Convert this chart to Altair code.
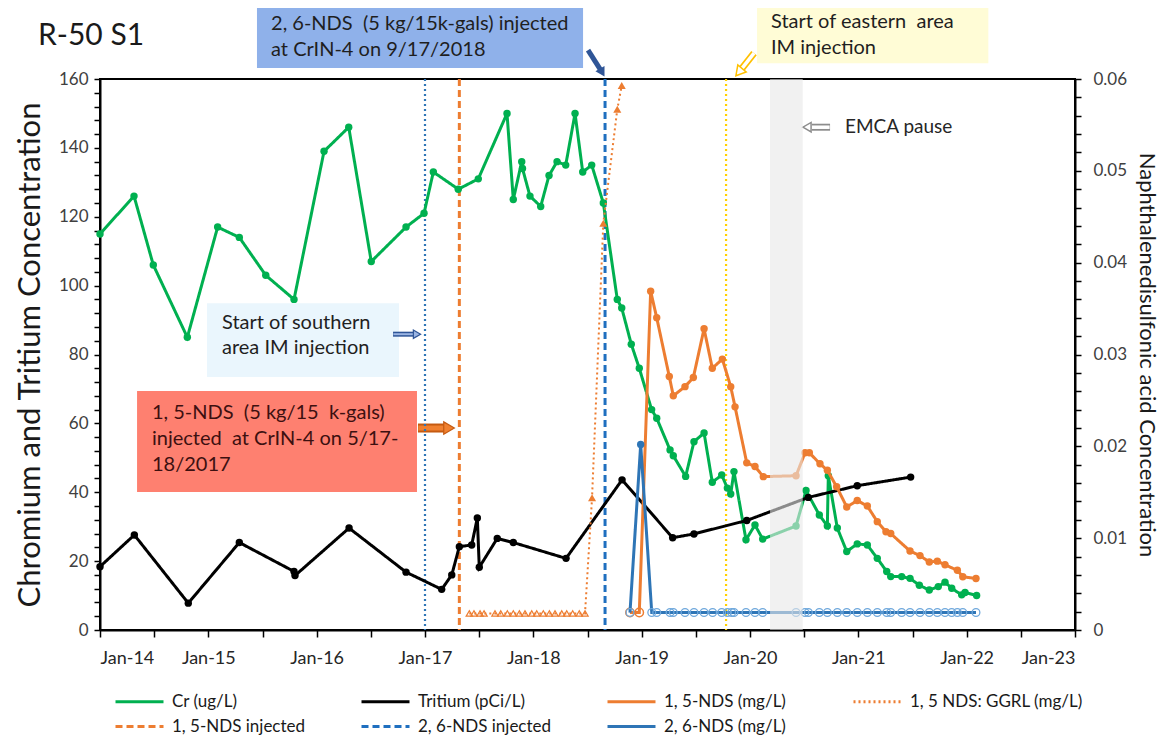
import altair as alt
import pandas as pd

FONT = "Lato"

# ---------------- series definitions ----------------
SERIES = ["Cr (ug/L)", "Tritium (pCi/L)", "1, 5-NDS (mg/L)", "1, 5 NDS: GGRL (mg/L)",
          "1, 5-NDS injected", "2, 6-NDS injected", "2, 6-NDS (mg/L)"]
SERIES_COLORS = ["#00b050", "#000000", "#ed7d31", "#ed7d31", "#ed7d31", "#1f6fbf", "#2e75b6"]
SERIES_DASH = [[1, 0], [1, 0], [1, 0], [2, 3], [7, 4], [7, 4], [1, 0]]

# ---------------- data (decimal years) ----------------
cr_year = [2014.000, 2014.314, 2014.492, 2014.806, 2015.086, 2015.286, 2015.530, 2015.791,
           2016.068, 2016.296, 2016.504, 2016.825, 2016.991, 2017.077, 2017.307, 2017.492,
           2017.757, 2017.815, 2017.893, 2017.900, 2017.969, 2018.068, 2018.145, 2018.219,
           2018.299, 2018.385, 2018.456, 2018.539, 2018.646, 2018.775, 2018.816, 2018.904,
           2018.978, 2019.092, 2019.139, 2019.262, 2019.292, 2019.406, 2019.483, 2019.576,
           2019.652, 2019.739, 2019.791, 2019.822, 2019.852, 2019.963, 2020.046, 2020.117,
           2020.425, 2020.517, 2020.640, 2020.714, 2020.723, 2020.806, 2020.893, 2020.990,
           2021.083, 2021.175, 2021.262, 2021.299, 2021.400, 2021.477, 2021.563, 2021.655,
           2021.738, 2021.800, 2021.862, 2021.954, 2021.985, 2022.092]
cr_val = [115, 126, 106, 85, 117, 114, 103, 96,
          139, 146, 107, 117, 121, 133, 128, 131,
          150, 125, 136, 134, 126, 123, 132, 136,
          135, 150, 133, 135, 124, 96, 93.5, 83,
          76, 64, 61.5, 52.3, 50.6, 44.6, 54.7, 57.2,
          42.9, 45, 41.2, 39.5, 46, 26.2, 30.5, 26.4,
          30.2, 40.5, 33.4, 30.2, 44.8, 29.6, 22.8, 25,
          24.7, 20.8, 17, 15.5, 15.5, 15, 13, 11.6,
          12.6, 13.9, 12.1, 10.2, 10.9, 10]

tr_year = [2014.000, 2014.317, 2014.815, 2015.286, 2015.791, 2015.800, 2016.299, 2016.825,
           2017.154, 2017.247, 2017.317, 2017.431, 2017.483, 2017.501, 2017.667, 2017.815,
           2018.302, 2018.819, 2019.286, 2019.483, 2019.970, 2020.538, 2020.990, 2021.483]
tr_val = [18.4, 27.6, 7.8, 25.4, 17.0, 15.8, 29.6, 16.8,
          11.8, 16.0, 24.2, 24.7, 32.5, 18.2, 26.6, 25.4,
          20.8, 43.6, 26.8, 27.9, 31.8, 38.5, 41.9, 44.4]

nds15_year = [2018.892, 2018.978, 2019.083, 2019.139, 2019.255, 2019.292, 2019.400, 2019.477,
              2019.576, 2019.652, 2019.745, 2019.822, 2019.862, 2019.970, 2020.046, 2020.123,
              2020.425, 2020.508, 2020.548, 2020.646, 2020.714, 2020.800, 2020.893, 2020.990,
              2021.083, 2021.175, 2021.255, 2021.299, 2021.477, 2021.569, 2021.655, 2021.729,
              2021.800, 2021.914, 2021.964, 2022.086]
nds15_val = [0.0019, 0.0019, 0.0369, 0.0340, 0.0276, 0.0255, 0.0265, 0.0275,
             0.0328, 0.0285, 0.0295, 0.0265, 0.0243, 0.0182, 0.0178, 0.0167,
             0.0168, 0.0193, 0.0193, 0.0181, 0.0174, 0.0156, 0.0134, 0.0141,
             0.0135, 0.0118, 0.0107, 0.0105, 0.0086, 0.0081, 0.0074, 0.0075,
             0.0071, 0.0065, 0.0058, 0.0056]
nds15_flag = ["ND", "ND", "D", "D", "D", "D", "D", "D",
              "D", "D", "D", "D", "D", "D", "D", "D",
              "D", "D", "D", "D", "D", "D", "D", "D",
              "D", "D", "D", "D", "D", "D", "D", "D",
              "D", "D", "D", "D"]

ggrl_year = [2017.409, 2017.452, 2017.508, 2017.545, 2017.646, 2017.699, 2017.760, 2017.815,
             2017.871, 2017.923, 2017.985, 2018.031, 2018.092, 2018.148, 2018.200, 2018.262,
             2018.308, 2018.363, 2018.424, 2018.477, 2018.542, 2018.646, 2018.775, 2018.816]
ggrl_val = [0.0018, 0.0018, 0.0018, 0.0018, 0.0018, 0.0018, 0.0018, 0.0018,
            0.0018, 0.0018, 0.0018, 0.0018, 0.0018, 0.0018, 0.0018, 0.0018,
            0.0018, 0.0018, 0.0018, 0.0018, 0.0144, 0.0443, 0.0567, 0.0593]
ggrl_flag = ["ND", "ND", "ND", "ND", "ND", "ND", "ND", "ND",
             "ND", "ND", "ND", "ND", "ND", "ND", "ND", "ND",
             "ND", "ND", "ND", "ND", "D", "D", "D", "D"]

nds26_year = [2018.892, 2018.991, 2019.093, 2019.139, 2019.262, 2019.292, 2019.400, 2019.483,
              2019.576, 2019.655, 2019.739, 2019.791, 2019.831, 2019.852, 2019.963, 2020.046,
              2020.117, 2020.425, 2020.508, 2020.539, 2020.640, 2020.714, 2020.806, 2020.893,
              2020.990, 2021.083, 2021.175, 2021.262, 2021.299, 2021.400, 2021.477, 2021.569,
              2021.655, 2021.729, 2021.800, 2021.862, 2021.914, 2021.964, 2022.086]
nds26_val = [0.0019, 0.0202, 0.0019, 0.0019, 0.0019, 0.0019, 0.0019, 0.0019,
             0.0019, 0.0019, 0.0019, 0.0019, 0.0019, 0.0019, 0.0019, 0.0019,
             0.0019, 0.0019, 0.0019, 0.0019, 0.0019, 0.0019, 0.0019, 0.0019,
             0.0019, 0.0019, 0.0019, 0.0019, 0.0019, 0.0019, 0.0019, 0.0019,
             0.0019, 0.0019, 0.0019, 0.0019, 0.0019, 0.0019, 0.0019]
nds26_flag = ["ND", "D", "ND", "ND", "ND", "ND", "ND", "ND",
              "ND", "ND", "ND", "ND", "ND", "ND", "ND", "ND",
              "ND", "ND", "ND", "ND", "ND", "ND", "ND", "ND",
              "ND", "ND", "ND", "ND", "ND", "ND", "ND", "ND",
              "ND", "ND", "ND", "ND", "ND", "ND", "ND"]

# event markers (decimal years)
inj_year = [2017.317, 2018.662]
inj_series = ["1, 5-NDS injected", "2, 6-NDS injected"]
south_im_year = [2017.0]
east_im_year = [2019.779]
pause_start = [2020.185]
pause_end = [2020.487]

# ---------------- scales / axes ----------------
x_scale = alt.Scale(domain=[2014, 2023], nice=False, zero=False)
x_axis = alt.Axis(
    values=[2014 + 0.5 * i for i in range(19)],
    labelExpr="datum.value % 1 == 0 ? 'Jan-' + substring(toString(datum.value), 2, 4) : ''",
    title=None, grid=False, tickSize=7, tickColor="black", tickWidth=1.5,
    domainColor="black", domainWidth=2, labelFont=FONT, labelFontSize=18,
    labelColor="#262626", labelPadding=12, labelOverlap=False,
)
yl_scale = alt.Scale(domain=[0, 160], nice=False, zero=True)
yl_axis = alt.Axis(
    values=list(range(0, 161, 4)),
    labelExpr="datum.value % 20 == 0 ? datum.label : ''",
    title="Chromium and Tritium Concentration", titleFont=FONT, titleFontSize=31,
    titleFontWeight="normal", titleColor="#1a1a1a", titlePadding=12,
    labelFont=FONT, labelFontSize=17, labelColor="#404040", labelPadding=6,
    tickSize=6, tickColor="black", tickWidth=1.5, grid=False,
    domainColor="black", domainWidth=2, labelOverlap=False,
)
yr_scale = alt.Scale(domain=[0, 0.06], nice=False, zero=True)
yr_axis = alt.Axis(
    orient="right",
    values=[round(0.002 * i, 3) for i in range(31)],
    labelExpr="round(datum.value * 1000) % 10 == 0 ? format(datum.value, '~g') : ''",
    title="Naphthalenedisulfonic acid Concentration", titleFont=FONT, titleFontSize=22,
    titleFontWeight="normal", titleColor="#1a1a1a", titlePadding=8,
    labelFont=FONT, labelFontSize=17, labelColor="#404040", labelPadding=12,
    tickSize=6, tickColor="black", tickWidth=1.5, grid=False,
    domainColor="black", domainWidth=2, labelOverlap=False,
)

color_scale = alt.Scale(domain=SERIES, range=SERIES_COLORS)
dash_scale = alt.Scale(domain=SERIES, range=SERIES_DASH)
legend = alt.Legend(
    title=None, orient="none", legendX=31, legendY=614, direction="horizontal", columns=4,
    symbolType="M-4.8,0H4.8", symbolSize=100, symbolStrokeWidth=3, labelOffset=24,
    labelFont=FONT, labelFontSize=17, labelColor="#1a1a1a", columnPadding=10, rowPadding=7,
    labelLimit=300, gridAlign="all",
)


def X():
    return alt.X("year:Q", scale=x_scale, axis=x_axis)


def YL():
    return alt.Y("value:Q", scale=yl_scale, axis=yl_axis)


def YR():
    return alt.Y("value:Q", scale=yr_scale, axis=yr_axis)


def COLOR():
    return alt.Color("series:N", scale=color_scale, legend=legend)


def DASH():
    return alt.StrokeDash("series:N", scale=dash_scale, legend=legend)


def frame(years, vals, series, flags=None):
    d = pd.DataFrame({"year": years, "value": vals})
    d["series"] = series
    if flags is not None:
        d["flag"] = flags
    return d


cr_df = frame(cr_year, cr_val, SERIES[0])
tr_df = frame(tr_year, tr_val, SERIES[1])
n15_df = frame(nds15_year, nds15_val, SERIES[2], nds15_flag)
gg_df = frame(ggrl_year, ggrl_val, SERIES[3], ggrl_flag)
n26_df = frame(nds26_year, nds26_val, SERIES[6], nds26_flag)
inj_df = pd.DataFrame({"year": inj_year, "series": inj_series})

# ---------------- annotations (in data units: year / left-axis value) ----------------
NB = "\u00a0"
boxes = [
    # year, year2, value, value2, fill
    (2015.449, 2018.459, 163.2, 186.0, "#8fb1ea"),
    (2020.065, 2022.200, 164.6, 186.0, "#fffcd6"),
    (2014.988, 2016.760, 73.5, 94.9, "#eaf6fd"),
    (2014.342, 2016.926, 40.1, 69.4, "#fe8070"),
]
box_layers = []
for y1, y2, v1, v2, fill in boxes:
    bdf = pd.DataFrame({"year": [y1], "year2": [y2], "value": [v1], "value2": [v2]})
    box_layers.append(alt.Chart(bdf).mark_rect(color=fill).encode(
        x=X(), x2="year2", y=YL(), y2="value2"))

texts = [
    # year, [values], [lines], color, size
    (2015.579, [176.0, 168.4],
     ["2, 6-NDS" + NB + " (5 kg/15k-gals) injected", "at CrIN-4 on 9/17/2018"], "#1f1f1f", 20),
    (2020.194, [176.5, 169.0], ["Start of eastern" + NB + " area", "IM injection"], "#1f1f1f", 20),
    (2015.126, [89.1, 81.9], ["Start of southern", "area IM injection"], "#1f1f1f", 20),
    (2014.480, [63.0, 55.5, 47.9],
     ["1, 5-NDS" + NB + " (5 kg/15" + NB + " k-gals)", "injected" + NB + " at CrIN-4 on 5/17-", "18/2017"],
     "#3d1010", 20),
    (2020.877, [146.0], ["EMCA pause"], "#262626", 19),
]
text_layers = []
for yr, vals, lines, col, fs in texts:
    tdf = pd.DataFrame({"year": [yr] * len(vals), "value": vals, "text": lines})
    text_layers.append(alt.Chart(tdf).mark_text(
        align="left", baseline="middle", font=FONT, fontSize=fs, color=col).encode(
        x=X(), y=YL(), text="text:N"))

title_df = pd.DataFrame({"year": [2013.428], "value": [169.9], "text": ["R-50 S1"]})
title_layer = alt.Chart(title_df).mark_text(
    align="left", baseline="alphabetic", font=FONT, fontSize=30, color="#1a1a1a").encode(
    x=X(), y=YL(), text="text:N")


def shaft(y1, v1, y2, v2, color, width):
    d = pd.DataFrame({"year": [y1], "value": [v1], "year2": [y2], "value2": [v2]})
    return alt.Chart(d).mark_rule(color=color, strokeWidth=width).encode(
        x=X(), y=YL(), x2="year2", y2="value2")


def head(yr, v, angle, size, fill, stroke=None, sw=0):
    d = pd.DataFrame({"year": [yr], "value": [v]})
    kw = dict(shape="triangle-up", filled=True, angle=angle, size=size, fill=fill, opacity=1)
    if stroke is not None:
        kw.update(stroke=stroke, strokeWidth=sw)
    return alt.Chart(d).mark_point(**kw).encode(x=X(), y=YL())


arrow_layers = [
    # blue arrow to 2,6-NDS injection
    shaft(2018.505, 168.4, 2018.622, 162.6, "#2f5597", 5),
    head(2018.636, 161.9, 150, 110, "#2f5597"),
    # hollow yellow arrow to eastern IM line
    shaft(2020.037, 167.5, 2019.926, 163.1, "#ffc000", 7),
    shaft(2020.037, 167.5, 2019.926, 163.1, "#ffffff", 3.5),
    head(2019.898, 162.0, 220, 120, "#ffffff", "#ffc000", 1.5),
    # hollow grey arrow for EMCA pause
    shaft(2020.739, 146.0, 2020.572, 146.0, "#8c8c8c", 7),
    shaft(2020.735, 146.0, 2020.572, 146.0, "#ffffff", 3.5),
    head(2020.526, 146.0, 270, 90, "#ffffff", "#8c8c8c", 1.5),
    # blue arrow to southern IM line
    shaft(2016.705, 85.9, 2016.899, 85.9, "#2f5597", 5),
    shaft(2016.708, 85.9, 2016.899, 85.9, "#9bb5e3", 2),
    head(2016.926, 85.9, 90, 70, "#9bb5e3", "#2f5597", 1.2),
    # orange arrow to 1,5-NDS injection
    shaft(2016.935, 58.65, 2017.194, 58.65, "#c55a11", 9),
    shaft(2016.938, 58.65, 2017.194, 58.65, "#f08030", 5),
    head(2017.222, 58.65, 90, 150, "#f08030", "#c55a11", 1.2),
]

# ---------------- vertical event lines ----------------
south_rule = alt.Chart(pd.DataFrame({"year": south_im_year})).mark_rule(
    color="#2e75b6", strokeDash=[2, 3], strokeWidth=2.2).encode(x=X())
east_rule = alt.Chart(pd.DataFrame({"year": east_im_year})).mark_rule(
    color="#ffd000", strokeDash=[2, 3], strokeWidth=2.2).encode(x=X())
inj_rules = alt.Chart(inj_df).mark_rule(strokeWidth=3).encode(
    x=X(), color=COLOR(), strokeDash=DASH())

# ---------------- left-axis series ----------------
cr_line = alt.Chart(cr_df).mark_line(strokeWidth=3).encode(
    x=X(), y=YL(), color=COLOR(), strokeDash=DASH())
cr_pts = alt.Chart(cr_df).mark_circle(size=55, color="#00b050", opacity=1).encode(x=X(), y=YL())
tr_line = alt.Chart(tr_df).mark_line(strokeWidth=3).encode(
    x=X(), y=YL(), color=COLOR(), strokeDash=DASH())
tr_pts = alt.Chart(tr_df).mark_circle(size=55, color="#000000", opacity=1).encode(x=X(), y=YL())

left = alt.layer(
    *box_layers, *text_layers, title_layer, *arrow_layers,
    south_rule, east_rule, inj_rules,
    cr_line, cr_pts, tr_line, tr_pts,
)

# ---------------- right-axis series ----------------
gg_line = alt.Chart(gg_df).mark_line(strokeWidth=2).encode(
    x=X(), y=YR(), color=COLOR(), strokeDash=DASH())
gg_nd = alt.Chart(gg_df).transform_filter("datum.flag == 'ND'").mark_point(
    shape="triangle-up", filled=False, size=40, strokeWidth=1.2, color="#ed7d31", opacity=1).encode(
    x=X(), y=YR())
gg_d = alt.Chart(gg_df).transform_filter("datum.flag == 'D'").mark_point(
    shape="triangle-up", filled=True, size=65, color="#ed7d31", opacity=1).encode(
    x=X(), y=YR())

n15_line = alt.Chart(n15_df).mark_line(strokeWidth=3).encode(
    x=X(), y=YR(), color=COLOR(), strokeDash=DASH())
n15_nd = alt.Chart(n15_df).transform_filter("datum.flag == 'ND'").mark_point(
    shape="circle", filled=False, size=70, strokeWidth=1.5, color="#ed7d31", opacity=1).encode(
    x=X(), y=YR())
n15_d = alt.Chart(n15_df).transform_filter("datum.flag == 'D'").mark_circle(
    size=55, color="#ed7d31", opacity=1).encode(x=X(), y=YR())

n26_line = alt.Chart(n26_df).mark_line(strokeWidth=3).encode(
    x=X(), y=YR(), color=COLOR(), strokeDash=DASH())
n26_nd = alt.Chart(n26_df).transform_filter("datum.flag == 'ND'").mark_point(
    shape="circle", filled=False, size=60, strokeWidth=1.3, color="#6fa8dc", opacity=1).encode(
    x=X(), y=YR())
n26_d = alt.Chart(n26_df).transform_filter("datum.flag == 'D'").mark_circle(
    size=55, color="#2e75b6", opacity=1).encode(x=X(), y=YR())

pause_band = alt.Chart(pd.DataFrame({"year": pause_start, "year2": pause_end})).mark_rect(
    color="#e8e8e8", opacity=0.6).encode(x=X(), x2="year2")

right = alt.layer(
    gg_line, gg_nd, gg_d,
    n15_line, n15_nd, n15_d,
    n26_line, n26_nd, n26_d,
    pause_band,
)

chart = alt.layer(left, right).resolve_scale(y="independent").properties(
    width=975, height=551,
    autosize=alt.AutoSizeParams(type="none"),
    padding={"left": 92, "top": 71, "right": 88, "bottom": 106},
    background="white",
).configure_view(stroke="black", strokeWidth=2)

chart.save("out.html", embed_options={"renderer": "svg", "actions": False})
